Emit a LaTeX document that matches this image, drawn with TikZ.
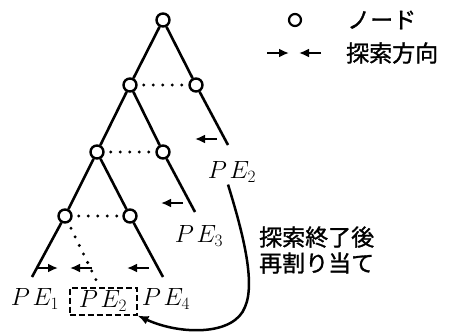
\documentclass[tikz,border=0pt]{standalone}
\usepackage{fontspec}
\newfontfamily\jp[FakeBold=1.2]{Noto Sans CJK JP}
\usetikzlibrary{arrows.meta}
\begin{document}
\begin{tikzpicture}[x=1pt,y=-1pt,
  pe/.style={circle,draw,line width=2.4pt,minimum size=13pt,inner sep=0pt},
  edge/.style={line width=2.6pt},
  dots/.style={line width=3.3pt,line cap=round,dash pattern=on 0pt off 9.5pt,shorten <=6pt,shorten >=3pt},
  dirarrow/.style={line width=2.8pt,-{Latex[length=10pt,width=9pt]}},
  lbl/.style={font=\fontsize{23}{26}\selectfont,inner sep=0pt},
  jtxt/.style={font=\jp\fontsize{23}{26}\selectfont,inner sep=0pt,anchor=west}]
\useasboundingbox (0,0) rectangle (457,332);
% tree nodes
\node[pe] (n0) at (163,20) {};
\node[pe] (l2) at (130,85) {};
\node[pe] (r2) at (196,85) {};
\node[pe] (l3) at (97,152) {};
\node[pe] (r3) at (163,152) {};
\node[pe] (l4) at (65,216) {};
\node[pe] (r4) at (130,216) {};
\coordinate (e2) at (228,145);
\coordinate (e3) at (195,212);
\coordinate (e1) at (32,277);
\coordinate (e4) at (163,277);
% edges
\draw[edge] (n0) -- (l2);
\draw[edge] (n0) -- (r2);
\draw[edge] (r2) -- (e2);
\draw[edge] (l2) -- (l3);
\draw[edge] (l2) -- (r3);
\draw[edge] (r3) -- (e3);
\draw[edge] (l3) -- (l4);
\draw[edge] (l3) -- (r4);
\draw[edge] (l4) -- (e1);
\draw[edge] (r4) -- (e4);
% dotted
\draw[dots] (l2) -- (r2);
\draw[dots] (l3) -- (r3);
\draw[dots] (l4) -- (r4);
% labels
\node[lbl] (pe2t) at (232,172) {$P\mkern2mu E_2$};
\node[lbl] (pe3) at (199,236) {$P\mkern2mu E_3$};
\node[lbl] (pe1) at (35,299) {$P\mkern2mu E_1$};
\node[lbl] (pe4) at (166,299) {$P\mkern2mu E_4$};
\node[lbl,draw,line width=2pt,dash pattern=on 6pt off 3pt,minimum width=67pt,minimum height=27pt] (b2) at (103,301) {$P\mkern2mu E_2$};
\coordinate (dt) at (100,288);
\draw[dots,shorten >=0pt] (l4) -- (dt);
% direction arrows
\coordinate (a1s) at (217,139); \coordinate (a1e) at (195,139);
\coordinate (a2s) at (183,203); \coordinate (a2e) at (161,203);
\coordinate (a3s) at (36,268);  \coordinate (a3e) at (58,268);
\coordinate (a4s) at (92,268);  \coordinate (a4e) at (70,268);
\coordinate (a5s) at (149,268); \coordinate (a5e) at (127,268);
\draw[dirarrow] (a1s) -- (a1e);
\draw[dirarrow] (a2s) -- (a2e);
\draw[dirarrow] (a3s) -- (a3e);
\draw[dirarrow] (a4s) -- (a4e);
\draw[dirarrow] (a5s) -- (a5e);
% reassignment curve
\draw[line width=2.5pt,-{Latex[length=11pt,width=9pt]}] (pe2t.south) ++(-4,2) .. controls (242,230) and (256,282) .. (245,307) .. controls (234,336) and (180,335) .. (b2.south east);
% legend
\node[pe,line width=2.2pt,minimum size=12pt] (lg) at (295,20) {};
\node[jtxt] (lgt) at (347,20) {ノード};
\coordinate (la1s) at (267,53); \coordinate (la1e) at (289,53);
\coordinate (la2s) at (321,53); \coordinate (la2e) at (299,53);
\draw[dirarrow] (la1s) -- (la1e);
\draw[dirarrow] (la2s) -- (la2e);
\node[jtxt] (lgd) at (346,53) {探索方向};
\node[jtxt,align=left] (re) at (259,250) {探索終了後\\再割り当て};
\end{tikzpicture}
\end{document}
